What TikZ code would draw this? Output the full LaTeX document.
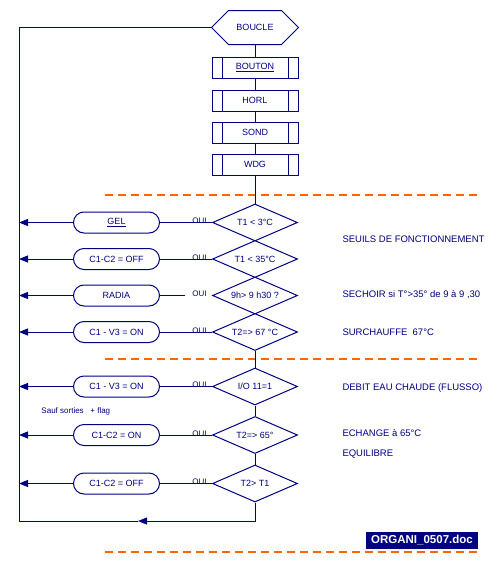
\documentclass[tikz,border=0pt]{standalone}
\usepackage{fontspec}
\setmainfont{Liberation Sans}
\usetikzlibrary{shapes.geometric,shapes.misc,arrows.meta}
\definecolor{navy}{RGB}{0,0,128}
\definecolor{orng}{RGB}{255,102,0}
\begin{document}
\begin{tikzpicture}[x=1pt,y=-1pt,line width=1pt,
  every node/.style={text=navy,font=\fontsize{9}{10}\selectfont},
  procbox/.style={draw=navy,rectangle,minimum width=86pt,minimum height=21pt,inner sep=0pt,
    path picture={
      \draw[navy,line width=1pt] ([xshift=10pt]path picture bounding box.north west) -- ([xshift=10pt]path picture bounding box.south west);
      \draw[navy,line width=1pt] ([xshift=-10pt]path picture bounding box.north east) -- ([xshift=-10pt]path picture bounding box.south east);}},
  term/.style={draw=navy,rounded rectangle,minimum width=86pt,minimum height=21pt,inner sep=0pt},
  dec/.style={draw=navy,diamond,aspect=2.3,minimum width=85pt,minimum height=37pt,inner sep=0pt},
  conn/.style={draw=navy,line width=1pt},
  arr/.style={conn,-{Triangle[length=9pt,width=7pt]}},
  oui/.style={font=\fontsize{8}{9}\selectfont,anchor=south,inner sep=0.5pt},
  side/.style={anchor=base west,font=\fontsize{9.5}{11}\selectfont,inner sep=0pt},
  sep/.style={draw=orng,line width=2pt,dash pattern=on 8pt off 5pt}]
\useasboundingbox (0,0) rectangle (498,563);
% separators
\draw[sep] (105,195) -- (477,195);
\draw[sep] (105,359) -- (477,359);
\draw[sep] (105,552) -- (477,552);
% top
\node[minimum width=86pt,minimum height=33pt,inner sep=0pt] (boucle) at (255,27.5) {BOUCLE};
\draw[conn] (boucle.west) -- ([xshift=17pt]boucle.north west) -- ([xshift=-17pt]boucle.north east)
  -- (boucle.east) -- ([xshift=-17pt]boucle.south east) -- ([xshift=17pt]boucle.south west) -- cycle;
\node[procbox] (b1) at (255,67.5) {\underline{BOUTON}};
\node[procbox] (b2) at (255,100.5) {HORL};
\node[procbox] (b3) at (255,132.5) {SOND};
\node[procbox] (b4) at (255,164.5) {WDG};
% decisions
\node[dec] (d1) at (255,222.5) {T1 < 3°C};
\node[dec] (d2) at (255,259) {T1 < 35°C};
\node[dec] (d3) at (255,295.5) {9h> 9 h30 ?};
\node[dec] (d4) at (255,332) {T2=> 67 °C};
\node[dec] (d5) at (255,386.5) {I/O 11=1};
\node[dec] (d6) at (255,435) {T2=> 65°};
\node[dec] (d7) at (255,483.5) {T2> T1};
% terminals
\node[term] (t1) at (116.5,222.5) {\underline{GEL}};
\node[term] (t2) at (116.5,259) {C1-C2 = OFF};
\node[term] (t3) at (116.5,295.5) {RADIA};
\node[term] (t4) at (116.5,332) {C1 - V3 = ON};
\node[term] (t5) at (116.5,386.5) {C1 - V3 = ON};
\node[term] (t6) at (116.5,435) {C1-C2 = ON};
\node[term] (t7) at (116.5,483.5) {C1-C2 = OFF};
% coordinates
\coordinate (lx) at (19,0);
\coordinate (r3) at (185,295.5);
\coordinate (bm) at (138,521);
\coordinate (bl) at (19,521);
\coordinate (tl) at (19,27.5);
% vertical flow
\draw[conn] (boucle.south) -- (b1.north);
\draw[conn] (b1.south) -- (b2.north);
\draw[conn] (b2.south) -- (b3.north);
\draw[conn] (b3.south) -- (b4.north);
\draw[conn] (b4.south) -- (d1.north);
\draw[conn] (d4.south) -- (d5.north);
\draw[conn] (d5.south) -- (d6.north);
\draw[conn] (d6.south) -- (d7.north);
% yes branches
\foreach \i in {1,2,4,5,6,7}{
  \draw[conn] (d\i.west) -- (t\i.east);
  \node[oui] at ([xshift=-12.5pt,yshift=-2.5pt]d\i.west) {OUI};
}
\draw[conn] (t3.east) -- (r3);
\node[oui] at ([xshift=-12.5pt,yshift=-2.5pt]d3.west) {OUI};
\foreach \i in {1,...,7}{
  \draw[arr] (t\i.west) -- (t\i.west -| lx);
}
% loop back
\draw[arr] (d7.south) |- (bm);
\draw[conn] (bm) -- (bl) -- (tl) -- (boucle.west);
% notes
\node[anchor=base west,inner sep=0pt,font=\fontsize{8}{9}\selectfont] (note) at (41,413.5) {Sauf sorties~~ + flag};
\node[side] (s1) at (342,242.5) {SEUILS DE FONCTIONNEMENT};
\node[side] (s2) at (342,297.5) {SECHOIR si T°>35° de 9 à 9 ,30};
\node[side] (s3) at (342,335.5) {SURCHAUFFE~ 67°C};
\node[side] (s4) at (342,390.5) {DEBIT EAU CHAUDE (FLUSSO)};
\node[side] (s5) at (342,436.5) {ECHANGE à 65°C};
\node[side] (s6) at (342,456.5) {EQUILIBRE};
\node[fill=navy,text=white,font=\bfseries\fontsize{11.5}{12}\selectfont,minimum width=112pt,minimum height=17pt,inner sep=0pt] (doc) at (422,540) {ORGANI\_0507.doc};
\end{tikzpicture}
\end{document}
